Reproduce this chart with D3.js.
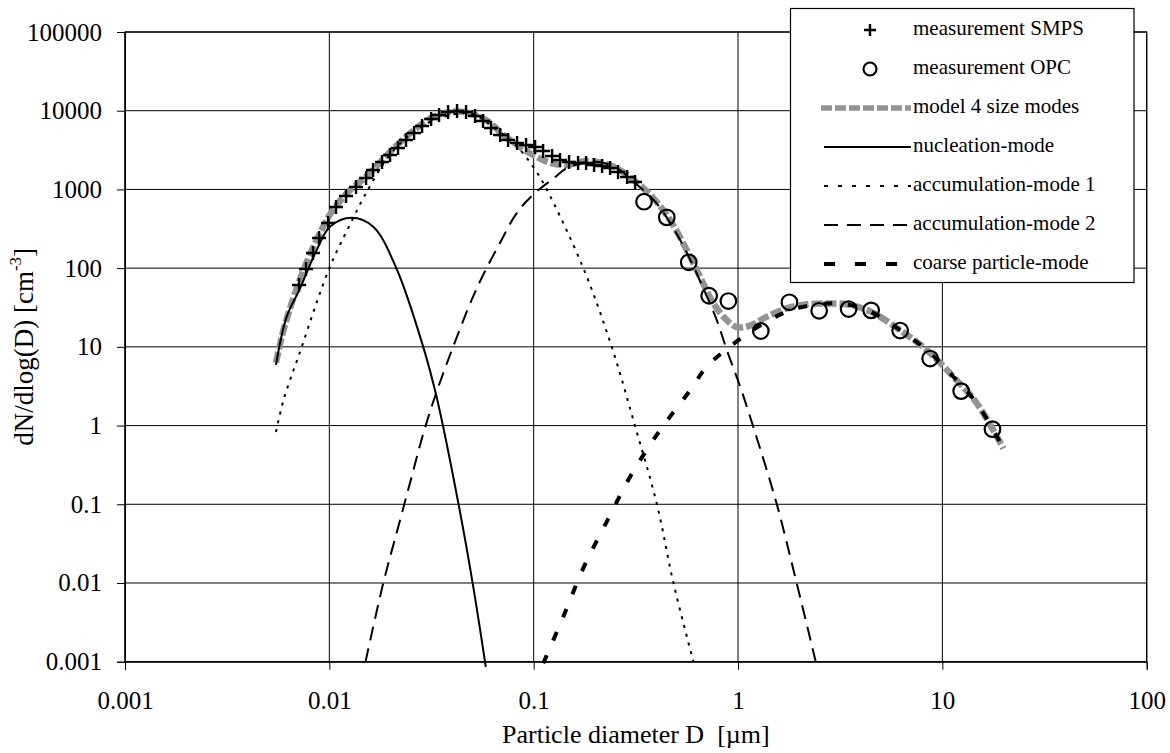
<!DOCTYPE html>
<html><head><meta charset="utf-8">
<script src="https://cdn.jsdelivr.net/npm/d3@7"></script>
<style>
body{margin:0;background:#fff}
svg{display:block}
text{font-family:"Liberation Serif","Times New Roman",serif;fill:#000}
</style>
</head><body>
<svg id="chart" width="1170" height="753"></svg>
<script>
// ---- tick values / labels ----
const xTickValues = [0.001, 0.01, 0.1, 1, 10, 100];
const xTickLabels = ["0.001", "0.01", "0.1", "1", "10", "100"];
const yTickValues = [0.001, 0.01, 0.1, 1, 10, 100, 1000, 10000, 100000];
const yTickLabels = ["0.001", "0.01", "0.1", "1", "10", "100", "1000", "10000", "100000"];

// ---- measurement SMPS ----
const smpsD = [0.00711,0.00769,0.00832,0.00891,0.00986,0.01078,0.01207,0.01351,0.01513,0.01637,0.01811,0.01982,0.02168,0.02372,0.02598,0.02843,0.03148,0.03443,0.03811,0.04217,0.04667,0.05165,0.05651,0.06183,0.0685,0.07494,0.08293,0.09178,0.1016,0.1112,0.1231,0.1346,0.149,0.1649,0.1805,0.1975,0.2161,0.2365,0.2588,0.2865,0.3135];
const smpsN = [61,97.5,156,241,374,597,824,1074,1396,1765,2230,2735,3357,4244,5207,6392,7848,8816,9622,9912,9622,8570,7398,6026,4909,4244,3888,3666,3460,3076,2655,2364,2230,2163,2163,2042,1983,1871,1663,1438,1242];

// ---- measurement OPC ----
const opcD = [0.3467,0.448,0.574,0.7223,0.897,1.293,1.785,2.495,3.478,4.482,6.215,8.715,12.36,17.59];
const opcN = [698,442,118.6,44.6,38.2,15.9,36.8,28.7,30.2,29.1,16.1,7.1,2.74,0.90];

// ---- model 4 size modes ----
const modelD = [0.00548,0.00596,0.00667,0.00746,0.00867,0.01007,0.01216,0.01524,0.0222,0.0323,0.0428,0.0568,0.0738,0.0959,0.120,0.145,0.182,0.245,0.308,0.385,0.465,0.561,0.652,0.759,0.881,0.986,1.146,1.380,1.730,2.168,2.716,3.404,4.436,5.984,8.395,11.32,14.76,19.91];
const modelN = [6.3,16.2,41.7,93,229,479,891,1479,3981,8318,9772,7943,4571,2884,2188,2042,2291,1950,1318,776,407,170,77.6,35.5,21.9,17.8,18.6,24,30.9,34.7,35.5,34.7,28.2,17.4,9.1,4.17,1.91,0.51];

// ---- nucleation-mode ----
const nucD = [0.00548,0.00618,0.00718,0.00867,0.01007,0.01285,0.0164,0.0213,0.0288,0.0335,0.0428,0.0503,0.0583];
const nucN = [5.9,24,55,170,336,437,336,99,10,2.3,0.103,0.0099,0.00086];

// ---- accumulation-mode 1 ----
const acc1D = [0.00548,0.00596,0.00667,0.00733,0.0082,0.00899,0.01,0.01086,0.01216,0.01496,0.01995,0.02818,0.03981,0.05012,0.0631,0.0794,0.0912,0.1035,0.1159,0.175,0.241,0.313,0.401,0.483,0.605];
const acc1N = [0.83,2.09,5.0,10,24,47.9,100,162,295,851,2820,6300,8900,9100,6300,3900,2630,1660,1000,100,10,1,0.1,0.01,0.001];

// ---- accumulation-mode 2 ----
const acc2D = [0.01503,0.01837,0.02178,0.02529,0.02884,0.03289,0.03899,0.04977,0.05675,0.06839,0.0826,0.1,0.125,0.1452,0.1778,0.2188,0.263,0.3076,0.3855,0.4645,0.561,0.6776,0.787,0.881,1.023,1.189,1.545,1.936,2.432];
const acc2N = [0.001,0.01,0.0525,0.224,0.794,2.34,7.94,39.8,83.2,209,501,871,1380,1862,2188,2188,1778,1259,741,380,158,55,21.9,9.12,3.16,0.955,0.102,0.01,0.00087];

// ---- coarse particle-mode ----
const coarseD = [0.1114,0.1396,0.175,0.228,0.2965,0.4074,0.5834,0.7031,0.881,1.146,1.489,1.936,2.716,3.404,4.436,5.984,8.395,11.32,14.76,19.91];
const coarseN = [0.000955,0.00372,0.0155,0.0603,0.224,0.813,2.82,5.62,9.33,15.5,23.4,30.9,35.5,34.7,28.2,17.4,9.12,4.17,1.91,0.513];

const legendLabels = ["measurement SMPS","measurement OPC","model 4 size modes","nucleation-mode","accumulation-mode 1","accumulation-mode 2","coarse particle-mode"];

// ---- layout ----
const L = 125, R = 1146.7, T = 32, B = 661.7;
const svg = d3.select("#chart");
const x = d3.scaleLog().domain([0.001, 100]).range([L, R]);
const y = d3.scaleLog().domain([0.001, 100000]).range([B, T]);
const zip = (a, b) => a.map((v, i) => [v, b[i]]);

// gridlines
const grid = svg.append("g");
grid.selectAll("line.h").data(yTickValues).join("line")
  .attr("x1", L).attr("x2", R).attr("y1", d => y(d)).attr("y2", d => y(d))
  .attr("stroke", "#000").attr("stroke-width", 1);
grid.selectAll("line.v").data(xTickValues).join("line")
  .attr("y1", T).attr("y2", B).attr("x1", d => x(d)).attr("x2", d => x(d))
  .attr("stroke", "#000").attr("stroke-width", 1);
svg.append("rect").attr("x", L).attr("y", T).attr("width", R - L).attr("height", B - T)
  .attr("fill", "none").attr("stroke", "#000").attr("stroke-width", 1.2);

// axes
const yAxis = d3.axisLeft(y).tickValues(yTickValues)
  .tickFormat((d, i) => yTickLabels[i]).tickSize(8).tickPadding(15);
const gy = svg.append("g").attr("transform", `translate(${L},0)`).call(yAxis);
const xAxis = d3.axisBottom(x).tickValues(xTickValues)
  .tickFormat((d, i) => xTickLabels[i]).tickSize(8).tickPadding(22);
const gx = svg.append("g").attr("transform", `translate(0,${B})`).call(xAxis);
[gx, gy].forEach(g => {
  g.select(".domain").attr("stroke", "#000");
  g.selectAll(".tick line").attr("stroke", "#000");
  g.selectAll("text").style("font-family", '"Liberation Serif","Times New Roman",serif')
    .style("font-size", "25px").attr("fill", "#000");
});

// curves
const line = d3.line().x(d => x(d[0])).y(d => y(d[1])).curve(d3.curveCatmullRom.alpha(0.5));
const styles = {
  model: {stroke: "#939393", width: 6.5, dash: "11,3"},
  nuc: {stroke: "#000", width: 2, dash: null},
  acc1: {stroke: "#000", width: 2, dash: "3,6"},
  acc2: {stroke: "#000", width: 2, dash: "14,8"},
  coarse: {stroke: "#000", width: 4, dash: "9,16"}
};
const curves = [
  ["model", zip(modelD, modelN)],
  ["nuc", zip(nucD, nucN)],
  ["acc1", zip(acc1D, acc1N)],
  ["acc2", zip(acc2D, acc2N)],
  ["coarse", zip(coarseD, coarseN)]
];
curves.forEach(([k, data]) => {
  const s = styles[k];
  svg.append("path").datum(data).attr("d", line)
    .attr("fill", "none").attr("stroke", s.stroke).attr("stroke-width", s.width)
    .attr("stroke-dasharray", s.dash);
});

// markers
const cross = (g, cx, cy, h) => {
  g.append("path").attr("d", `M${cx - h},${cy}H${cx + h}M${cx},${cy - h}V${cy + h}`)
    .attr("stroke", "#000").attr("stroke-width", 2.4).attr("fill", "none");
};
const gm = svg.append("g");
zip(smpsD, smpsN).forEach(d => cross(gm, x(d[0]), y(d[1]), 7));
gm.selectAll("circle").data(zip(opcD, opcN)).join("circle")
  .attr("cx", d => x(d[0])).attr("cy", d => y(d[1])).attr("r", 7.8)
  .attr("fill", "none").attr("stroke", "#000").attr("stroke-width", 2.2);

// axis titles
svg.append("text").attr("x", (L + R) / 2).attr("y", 737).attr("text-anchor", "middle")
  .attr("dominant-baseline", "middle").style("font-size", "26px").style("white-space", "pre")
  .text("Particle diameter D  [\u00b5m]");
const yt = svg.append("text").attr("transform", `translate(27,${(T + B) / 2}) rotate(-90)`)
  .attr("text-anchor", "middle").attr("dominant-baseline", "middle").style("font-size", "27px");
yt.append("tspan").text("dN/dlog(D) [cm");
yt.append("tspan").attr("baseline-shift", "super").style("font-size", "17px").text("-3");
yt.append("tspan").text("]");

// legend
const lg = svg.append("g");
lg.append("rect").attr("x", 790.5).attr("y", 8.5).attr("width", 343.5).attr("height", 274)
  .attr("fill", "#fff").attr("stroke", "#000").attr("stroke-width", 1.2);
const rowY = i => 30 + i * 39;
const lx1 = 824, lx2 = 911, lcx = 870;
legendLabels.forEach((lab, i) => {
  const yy = rowY(i);
  lg.append("text").attr("x", 913).attr("y", yy).attr("dominant-baseline", "middle")
    .style("font-size", "21px").text(lab);
});
cross(lg, lcx, rowY(0), 6);
lg.append("circle").attr("cx", lcx).attr("cy", rowY(1)).attr("r", 6.5)
  .attr("fill", "none").attr("stroke", "#000").attr("stroke-width", 2.2);
const legKeys = ["model", "nuc", "acc1", "acc2", "coarse"];
legKeys.forEach((k, j) => {
  const s = styles[k];
  const yy = rowY(j + 2);
  lg.append("line").attr("x1", k === "model" ? 821 : lx1).attr("x2", lx2).attr("y1", yy).attr("y2", yy)
    .attr("stroke", s.stroke).attr("stroke-width", k === "model" ? 5.5 : s.width)
    .attr("stroke-dasharray", k === "acc1" ? "4,10" : k === "coarse" ? "11,20" : k === "acc2" ? "14,9" : s.dash);
});
</script>
</body></html>
